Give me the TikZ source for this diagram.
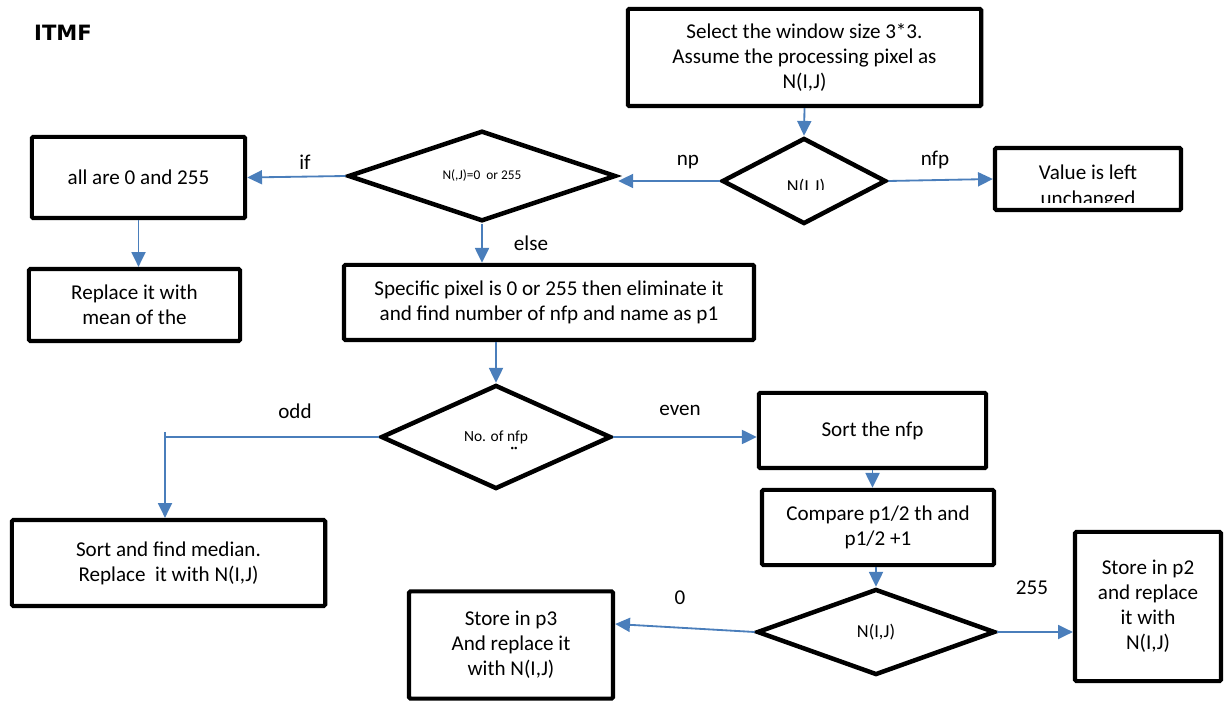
\documentclass[tikz,border=0pt]{standalone}
\usepackage{fontspec}
\setmainfont{Carlito}
\newfontfamily\titlefont{DejaVu Sans}
\usepackage{tikz}
\usetikzlibrary{arrows.meta,positioning,shapes.geometric}
\definecolor{flowblue}{HTML}{4A7EBB}
\tikzset{
  procbox/.style={draw=black, line width=3pt, rounded corners=1pt, align=center, inner sep=2pt, font=\fontsize{15}{17.8}\selectfont},
  decision/.style={diamond, draw=black, line width=3.2pt, align=center, inner sep=0pt, font=\fontsize{13}{15}\selectfont},
  flow/.style={-{Triangle[length=3.7mm,width=3.5mm]}, draw=flowblue, line width=1.3pt},
  link/.style={draw=flowblue, line width=1.3pt},
  lbl/.style={font=\fontsize{15}{17.8}\selectfont}
}

\begin{document}
\begin{tikzpicture}[x=0.025cm, y=-0.025cm]
\useasboundingbox (0,0) rectangle (1224,701);
% title
\node[font=\titlefont\bfseries\fontsize{15}{16}\selectfont] (title) at (63,33) {ITMF};
% window and first pixel test
\node[procbox, minimum width=8.83cm, minimum height=2.43cm] (window) at (804.5,57.5) {Select the window size 3*3.\\Assume the processing pixel as\\N(I,J)};
\node[decision, minimum width=4.1cm, minimum height=2.15cm] (pixtest) at (804,181) {};
\begin{scope}
  \clip (740,150) rectangle (870,190);
  \node[font=\fontsize{13}{15}\selectfont] (pixname) at (806,187) {N(I,J)};
\end{scope}
\node[procbox, minimum width=4.65cm, minimum height=1.55cm] (keep) at (1088,179) {};
\begin{scope}
  \clip (995,150) rectangle (1181,203);
  \node[lbl, align=center] (keeptext) at (1088,187) {Value is left\\unchanged};
\end{scope}
% np branch
\node[decision, minimum width=6.7cm, minimum height=2.05cm, font=\fontsize{9.5}{11}\selectfont] (zerochk) at (482,176) {N(,J)=0\ \ or 255};
\node[procbox, minimum width=5.33cm, minimum height=2.03cm] (allsame) at (138.5,177.5) {all are 0 and 255};
\node[procbox, minimum width=5.28cm, minimum height=1.8cm] (mean) at (134.5,305) {Replace it with\\mean of the};
\node[procbox, minimum width=10.25cm, minimum height=1.88cm] (elim) at (549,302.5) {Specific pixel is 0 or 255 then eliminate it\\and find number of nfp and name as p1};
% odd / even
\node[decision, minimum width=5.75cm, minimum height=2.6cm, font=\fontsize{11}{13}\selectfont] (parity) at (496,437) {No. of nfp};
\node[font=\fontsize{5}{5}\selectfont, inner sep=0pt] (nfpdots) at (514,449) {\textbullet\textbullet};
\node[procbox, minimum width=7.83cm, minimum height=2.15cm] (median) at (168.5,563) {Sort and find median.\\Replace\ \ it with N(I,J)};
\node[procbox, minimum width=5.68cm, minimum height=1.88cm] (sortnfp) at (872.5,430.5) {Sort the nfp};
\node[procbox, minimum width=5.8cm, minimum height=1.88cm] (compare) at (878,527.5) {Compare p1/2 th and\\p1/2 +1};
\node[decision, minimum width=5.95cm, minimum height=2.15cm] (midtest) at (876,632) {N(I,J)};
\node[procbox, minimum width=5.1cm, minimum height=2.68cm] (storethree) at (511,645) {Store in p3\\And replace it\\with N(I,J)};
\node[procbox, minimum width=3.65cm, minimum height=3.73cm] (storetwo) at (1148,606.5) {Store in p2\\and replace\\it with\\N(I,J)};
% branch labels
\node[lbl] (nplbl) at (688,162) {np};
\node[lbl] (nfplbl) at (935,160) {nfp};
\node[lbl] (iflbl) at (305,162) {if};
\node[lbl] (elselbl) at (531,243) {else};
\node[lbl] (oddlbl) at (295,411) {odd};
\node[lbl] (evenlbl) at (680,410) {even};
\node[lbl] (zerolbl) at (680,598) {0};
\node[lbl] (fflbl) at (1032,588) {255};
% connectors
\draw[flow] (window.south) -- (pixtest.north);
\draw[flow] (pixtest.west) -- (pixtest.west -| zerochk.east);
\draw[flow] (pixtest.east) -- (keep.west);
\draw[flow] (zerochk.west) -- (allsame.east);
\draw[flow] (allsame.south) -- (allsame.south |- mean.north);
\draw[flow] (zerochk.south) -- (zerochk.south |- elim.north);
\draw[flow] (parity.north |- elim.south) -- (parity.north);
\coordinate (oddturn) at (165,437);
\coordinate (oddtop) at (165,432);
\draw[link] (parity.west) -- (oddturn);
\draw[flow] (oddtop) -- (oddtop |- median.north);
\draw[flow] (parity.east) -- (parity.east -| sortnfp.west);
\draw[flow] (sortnfp.south) -- (sortnfp.south |- compare.north);
\draw[flow] (midtest.north |- compare.south) -- (midtest.north);
\draw[flow] (midtest.west) -- ([yshift=5.25mm]storethree.east);
\draw[flow] (midtest.east) -- (midtest.east -| storetwo.west);
\end{tikzpicture}
\end{document}
